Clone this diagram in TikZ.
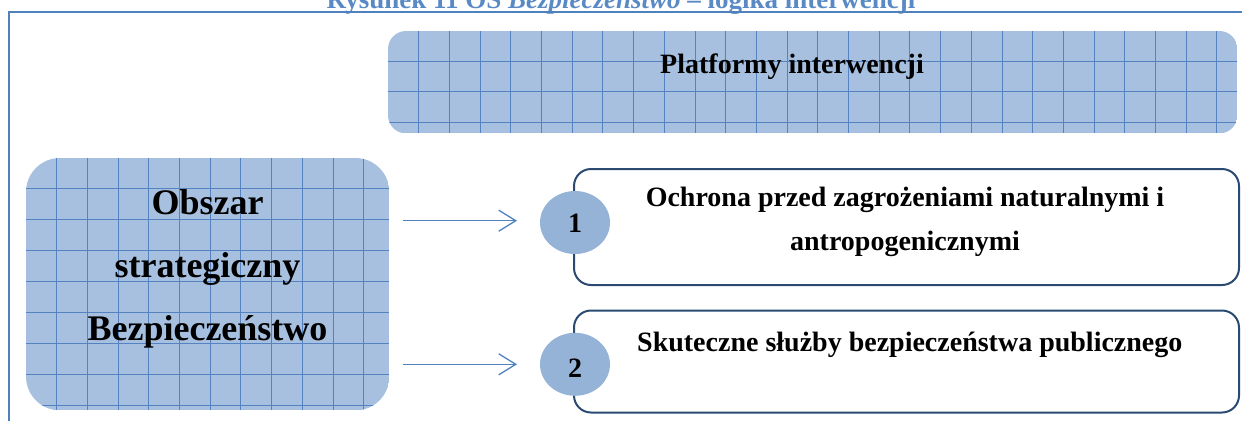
\documentclass[tikz,border=0pt]{standalone}
\usepackage{fontspec}
\setmainfont{Liberation Serif}
\usetikzlibrary{arrows.meta,shapes.geometric,calc}
\definecolor{frameblue}{HTML}{4F81BD}
\definecolor{titleblue}{HTML}{5A8AC6}
\definecolor{fillblue}{HTML}{A8C0DF}
\definecolor{gridblue}{HTML}{5583C1}
\definecolor{circblue}{HTML}{95B3D7}
\definecolor{navy}{HTML}{2A4A72}
\tikzset{
  gridbox/.style={rectangle, fill=none, draw=none, inner sep=0pt, anchor=north west},
  gridline/.style={gridblue, line width=0.9pt},
  itembox/.style={rectangle, draw=navy, line width=2pt, rounded corners=17pt, inner sep=0pt, anchor=north west, fill=white},
  numcirc/.style={ellipse, fill=circblue, draw=none, minimum width=70pt, minimum height=63pt, inner sep=0pt},
  boldtxt/.style={font=\bfseries\fontsize{28}{34}\selectfont, inner sep=0pt},
  bigtxt/.style={font=\bfseries\fontsize{36}{44}\selectfont, inner sep=0pt, anchor=base},
  arr/.style={frameblue, line width=1.3pt, -{Straight Barb[length=17pt,width=21pt,line width=1.3pt]}},
}
\begin{document}
\begin{tikzpicture}[x=1pt,y=-1pt]
\useasboundingbox (0,0) rectangle (1242,421);
% title (partially visible, as in the reference)
\node[anchor=base, inner sep=0pt, text=titleblue, font=\bfseries\fontsize{27}{32}\selectfont] (title) at (621,8) {Rysunek 11 OS \textit{Bezpieczeństwo} – logika interwencji};
% frame
\coordinate (fbl) at (9,421);
\coordinate (ftl) at (9,12);
\coordinate (ftr) at (1242,12);
\draw[frameblue, line width=2pt] (fbl) -- (ftl) -- (ftr);

% Platformy box
\node[gridbox, minimum width=849pt, minimum height=102pt] (plat) at (388,31) {};
\begin{scope}
  \clip[rounded corners=18pt] (plat.north west) rectangle (plat.south east);
  \fill[fillblue] (plat.north west) rectangle (plat.south east);
  \foreach \i in {1,...,28} \draw[gridline] ($(plat.north west)+(\i*30.7,0)$) -- ++(0,102);
  \foreach \j in {1,...,3} \draw[gridline] ($(plat.north west)+(0,\j*30.4)$) -- ++(849,0);
\end{scope}
\node[boldtxt, anchor=base] (platt) at (792,73) {Platformy interwencji};

% Obszar box
\node[gridbox, minimum width=363pt, minimum height=252pt] (obszar) at (26,158) {};
\begin{scope}
  \clip[rounded corners=34pt] (obszar.north west) rectangle (obszar.south east);
  \fill[fillblue] (obszar.north west) rectangle (obszar.south east);
  \foreach \i in {1,...,11} \draw[gridline] ($(obszar.north west)+(\i*30.7,0)$) -- ++(0,252);
  \foreach \j in {1,...,8} \draw[gridline] ($(obszar.north west)+(0,\j*30.9)$) -- ++(363,0);
\end{scope}
\node[bigtxt] (o1) at (207.5,214) {Obszar};
\node[bigtxt] (o2) at (207.5,277) {strategiczny};
\node[bigtxt] (o3) at (207.5,340) {Bezpieczeństwo};

% item boxes
\node[itembox, minimum width=665pt, minimum height=116pt] (box1) at (573,168) {};
\node[itembox, minimum width=665pt, minimum height=102pt] (box2) at (573,309.5) {};

% circles
\node[numcirc] (c1) at (575,222.5) {};
\node[numcirc] (c2) at (575,364.3) {};
\node[boldtxt, anchor=base] (n1) at (575,232) {1};
\node[boldtxt, anchor=base] (n2) at (575,377) {2};

% item texts
\node[boldtxt, anchor=base] (t1a) at (905,206.7) {Ochrona przed zagrożeniami naturalnymi i};
\node[boldtxt, anchor=base] (t1b) at (905,250.7) {antropogenicznymi};
\node[boldtxt, anchor=base west] (t2) at (637,351.7) {Skuteczne służby bezpieczeństwa publicznego};

% arrows
\coordinate (a1s) at (403,220.7);
\coordinate (a1e) at (517,220.7);
\coordinate (a2s) at (403,364.3);
\coordinate (a2e) at (517,364.3);
\draw[arr] (a1s) -- (a1e);
\draw[arr] (a2s) -- (a2e);
\end{tikzpicture}
\end{document}
